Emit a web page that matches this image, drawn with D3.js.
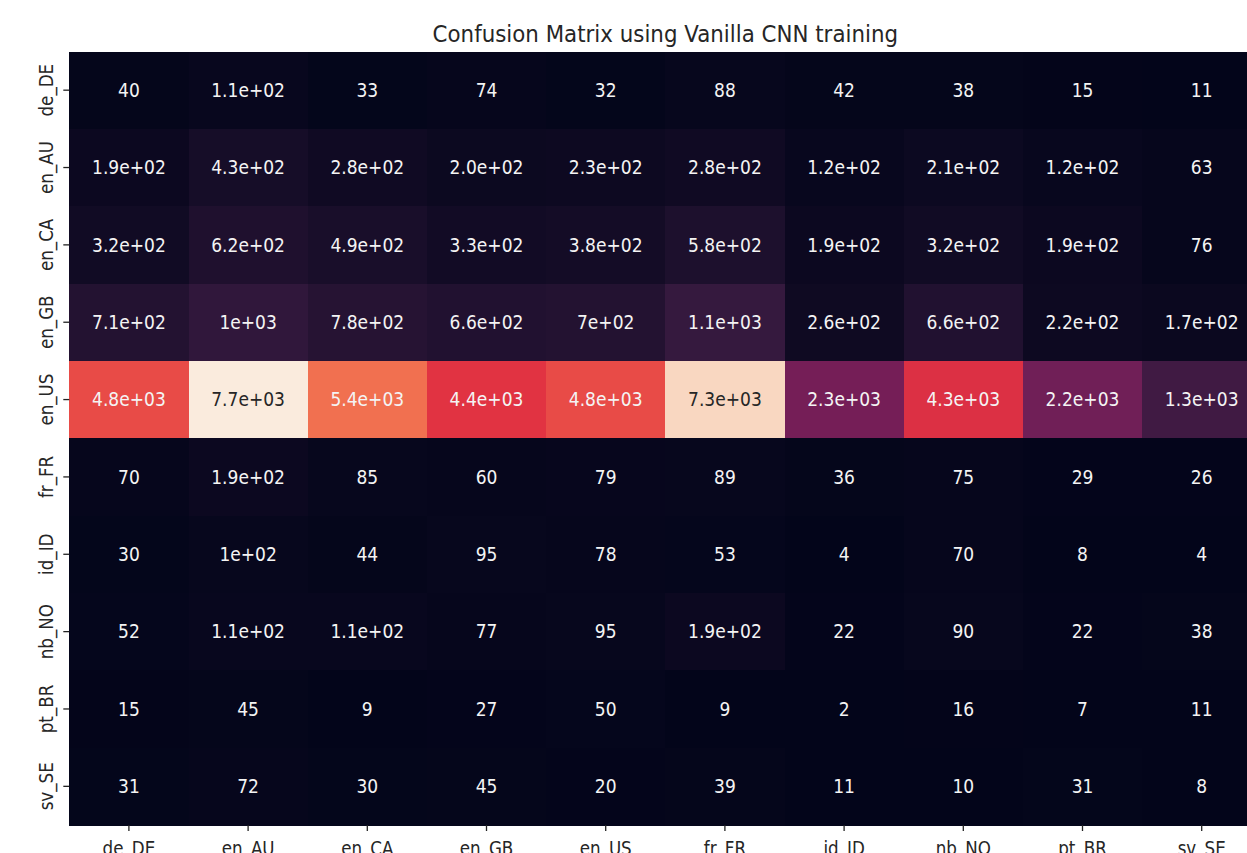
<!DOCTYPE html>
<html>
<head>
<meta charset="utf-8">
<script src="https://cdn.jsdelivr.net/npm/d3@7"></script>
<style>
    body { margin: 0; background: #fff; }
    text { font-family: "DejaVu Sans", sans-serif; }
</style>
</head>
<body>
<svg id="chart"></svg>
<script>
// row = true language, column = predicted language
const languages = ['de_DE', 'en_AU', 'en_CA', 'en_GB', 'en_US', 'fr_FR', 'id_ID', 'nb_NO', 'pt_BR', 'sv_SE'];

const counts = [
    [40, 110, 33, 74, 32, 88, 42, 38, 15, 11],
    [190, 430, 280, 200, 230, 280, 120, 210, 120, 63],
    [320, 620, 490, 330, 380, 580, 190, 320, 190, 76],
    [710, 1000, 780, 660, 700, 1100, 260, 660, 220, 170],
    [4800, 7700, 5400, 4400, 4800, 7300, 2300, 4300, 2200, 1300],
    [70, 190, 85, 60, 79, 89, 36, 75, 29, 26],
    [30, 100, 44, 95, 78, 53, 4, 70, 8, 4],
    [52, 110, 110, 77, 95, 190, 22, 90, 22, 38],
    [15, 45, 9, 27, 50, 9, 2, 16, 7, 11],
    [31, 72, 30, 45, 20, 39, 11, 10, 31, 8]
];

// annotation text as printed in the cells
const cellText = [
    ['40', '1.1e+02', '33', '74', '32', '88', '42', '38', '15', '11'],
    ['1.9e+02', '4.3e+02', '2.8e+02', '2.0e+02', '2.3e+02', '2.8e+02', '1.2e+02', '2.1e+02', '1.2e+02', '63'],
    ['3.2e+02', '6.2e+02', '4.9e+02', '3.3e+02', '3.8e+02', '5.8e+02', '1.9e+02', '3.2e+02', '1.9e+02', '76'],
    ['7.1e+02', '1e+03', '7.8e+02', '6.6e+02', '7e+02', '1.1e+03', '2.6e+02', '6.6e+02', '2.2e+02', '1.7e+02'],
    ['4.8e+03', '7.7e+03', '5.4e+03', '4.4e+03', '4.8e+03', '7.3e+03', '2.3e+03', '4.3e+03', '2.2e+03', '1.3e+03'],
    ['70', '1.9e+02', '85', '60', '79', '89', '36', '75', '29', '26'],
    ['30', '1e+02', '44', '95', '78', '53', '4', '70', '8', '4'],
    ['52', '1.1e+02', '1.1e+02', '77', '95', '1.9e+02', '22', '90', '22', '38'],
    ['15', '45', '9', '27', '50', '9', '2', '16', '7', '11'],
    ['31', '72', '30', '45', '20', '39', '11', '10', '31', '8']
];

const chartTitle = 'Confusion Matrix using Vanilla CNN training';

// seaborn "rocket" colormap sampled at 8 points
const rocketStops = [0, 1/7, 2/7, 3/7, 4/7, 5/7, 6/7, 1];
const rocketColors = ['#03051a', '#35193e', '#701f57', '#ad1759', '#e13342', '#f37651', '#f6b48f', '#faebdd'];

const WIDTH = 1247;
const HEIGHT = 853;
const PLOT_LEFT = 69.3;
const PLOT_RIGHT = 1261.3;
const PLOT_TOP = 51.5;
const PLOT_BOTTOM = 825;

const svg = d3.select('#chart')
    .attr('width', WIDTH)
    .attr('height', HEIGHT);

svg.append('rect')
    .attr('width', WIDTH)
    .attr('height', HEIGHT)
    .attr('fill', '#fff');

const x = d3.scaleBand()
    .domain(languages)
    .range([PLOT_LEFT, PLOT_RIGHT]);

const y = d3.scaleBand()
    .domain(languages)
    .range([PLOT_TOP, PLOT_BOTTOM]);

let flat = counts.flat();
let vmin = d3.min(flat);
let vmax = d3.max(flat);

const norm = d3.scaleLinear().domain([vmin, vmax]).range([0, 1]);
const rocket = d3.scaleLinear()
    .domain(rocketStops)
    .range(rocketColors)
    .interpolate(d3.interpolateRgb);

// same rule seaborn uses to pick the annotation colour
function luminance(color) {
    let c = d3.rgb(color);
    let lin = [c.r, c.g, c.b].map(v => {
        v = v / 255;
        return v <= 0.03928 ? v / 12.92 : Math.pow((v + 0.055) / 1.055, 2.4);
    });
    return 0.2126 * lin[0] + 0.7152 * lin[1] + 0.0722 * lin[2];
}

let cells = [];
counts.forEach((row, i) => {
    row.forEach((v, j) => {
        cells.push({
            row: languages[i],
            col: languages[j],
            value: v,
            text: cellText[i][j]
        });
    });
});

svg.append('g')
    .attr('shape-rendering', 'crispEdges')
    .selectAll('rect')
    .data(cells)
    .enter()
    .append('rect')
        .attr('x', d => x(d.col))
        .attr('y', d => y(d.row))
        .attr('width', x.bandwidth() + 1)
        .attr('height', y.bandwidth() + 1)
        .attr('fill', d => rocket(norm(d.value)));

svg.append('g')
    .selectAll('text')
    .data(cells)
    .enter()
    .append('text')
        .attr('transform', d =>
            'translate(' + (x(d.col) + x.bandwidth() / 2) + ',' + (y(d.row) + y.bandwidth() / 2) + ') scale(0.9,1)')
        .attr('dy', '0.35em')
        .attr('text-anchor', 'middle')
        .attr('font-size', '19px')
        .attr('fill', d => luminance(rocket(norm(d.value))) > 0.408 ? '#262626' : '#f4f4f4')
        .text(d => d.text);

// axes
let yAxis = svg.append('g')
    .attr('transform', 'translate(' + PLOT_LEFT + ',0)')
    .call(d3.axisLeft(y).tickSize(6).tickSizeOuter(0));

let xAxis = svg.append('g')
    .attr('transform', 'translate(0,' + PLOT_BOTTOM + ')')
    .call(d3.axisBottom(x).tickSize(6).tickSizeOuter(0));

[yAxis, xAxis].forEach(ax => {
    ax.select('.domain').remove();
    ax.selectAll('.tick line')
        .attr('stroke', '#222')
        .attr('stroke-width', 1.3);
    ax.selectAll('.tick text')
        .attr('font-family', '"DejaVu Sans", sans-serif')
        .attr('font-size', '19px')
        .attr('fill', '#262626');
});

yAxis.selectAll('.tick text')
    .attr('x', null)
    .attr('dy', null)
    .attr('text-anchor', 'middle')
    .attr('transform', 'translate(-16,0) rotate(-90) scale(0.88,1)');

// the x labels sit partly below the bottom edge, as in the reference
xAxis.selectAll('.tick text')
    .attr('y', null)
    .attr('dy', null)
    .attr('text-anchor', 'middle')
    .attr('transform', 'translate(0,30) scale(0.88,1)');

svg.append('text')
    .attr('transform', 'translate(' + ((PLOT_LEFT + PLOT_RIGHT) / 2) + ',41.7) scale(0.95,1)')
    .attr('text-anchor', 'middle')
    .attr('font-size', '22.5px')
    .attr('fill', '#262626')
    .text(chartTitle);
</script>
</body>
</html>
